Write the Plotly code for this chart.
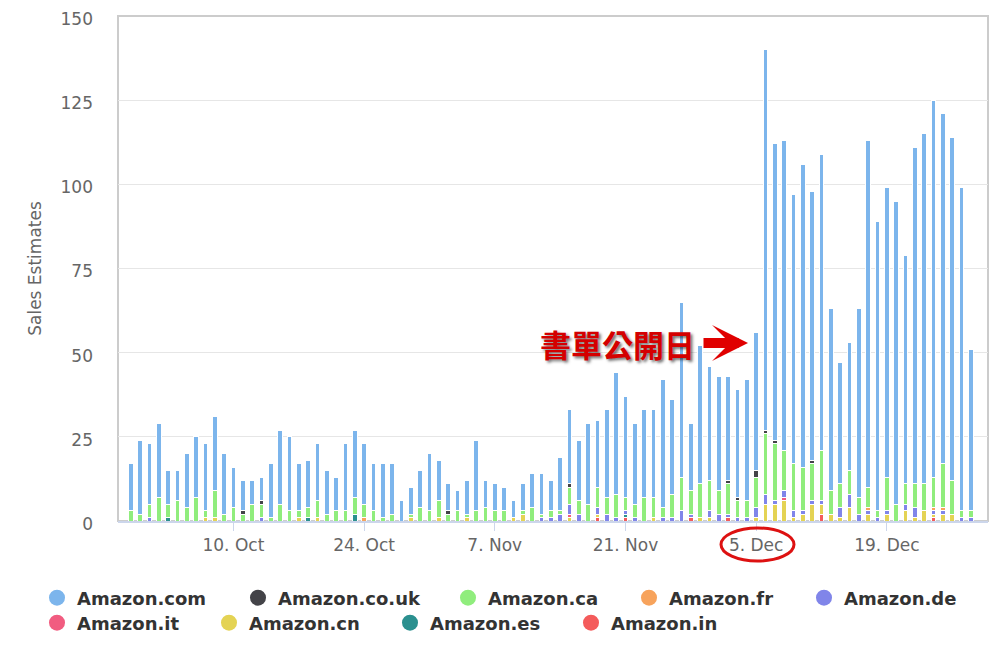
import pandas as pd
import plotly.graph_objects as go

# daily sales estimates per store, 29 Sep - 28 Dec
days = pd.date_range('2016-09-29', '2016-12-28', freq='D')

amazon_com = [14, 22, 18, 22, 10, 9, 16, 18, 20, 22,
              18, 12, 9, 7, 7, 16, 22, 22, 14, 14,
              17, 13, 10, 20, 20, 18, 14, 16, 15, 6,
              8, 11, 17, 12, 8, 6, 10, 21, 8, 8,
              7, 5, 8, 10, 12, 9, 16, 22, 18, 24,
              20, 26, 36, 30, 24, 26, 26, 38, 28, 52,
              20, 41, 34, 34, 31, 32, 36, 41, 113, 88,
              92, 80, 90, 80, 88, 54, 36, 38, 56, 103,
              86, 86, 90, 68, 100, 104, 112, 104, 102, 96, 48]
amazon_couk = [0, 0, 0, 0, 0, 0, 0, 0, 0, 0,
               0, 0, 1, 0, 1, 0, 0, 0, 0, 0,
               0, 0, 0, 0, 0, 0, 0, 0, 0, 0,
               0, 0, 0, 0, 1, 0, 0, 0, 0, 0,
               0, 0, 0, 0, 0, 0, 0, 1, 0, 0,
               0, 0, 0, 0, 0, 0, 0, 0, 0, 0,
               0, 0, 0, 0, 1, 1, 0, 2, 1, 1,
               0, 0, 0, 1, 0, 0, 0, 0, 0, 0,
               0, 0, 0, 0, 0, 0, 0, 0, 0, 0, 0]
amazon_ca = [3, 2, 4, 7, 4, 6, 4, 7, 2, 8,
             2, 4, 2, 5, 4, 1, 5, 3, 2, 3,
             5, 2, 3, 3, 5, 4, 3, 1, 2, 0,
             1, 4, 3, 5, 2, 3, 1, 3, 4, 3,
             3, 0, 1, 4, 1, 2, 1, 5, 4, 5,
             6, 5, 7, 4, 4, 7, 6, 3, 7, 10,
             7, 10, 9, 7, 9, 5, 5, 9, 18, 17,
             12, 14, 13, 11, 15, 7, 7, 7, 5, 6,
             2, 10, 5, 6, 7, 8, 9, 13, 10, 2, 2]
amazon_fr = [0, 0, 0, 0, 0, 0, 0, 0, 0, 0,
             0, 0, 0, 0, 0, 0, 0, 0, 0, 0,
             0, 0, 0, 0, 0, 1, 0, 0, 0, 0,
             0, 0, 0, 0, 0, 0, 0, 0, 0, 0,
             0, 0, 0, 0, 0, 0, 0, 0, 0, 0,
             0, 0, 0, 0, 0, 0, 0, 0, 0, 0,
             0, 0, 0, 0, 0, 0, 0, 0, 0, 0,
             0, 0, 0, 0, 0, 0, 0, 0, 0, 1,
             0, 0, 0, 0, 0, 0, 1, 1, 0, 0, 0]
amazon_de = [0, 0, 1, 0, 0, 0, 0, 0, 0, 0,
             0, 0, 0, 0, 1, 0, 0, 0, 0, 0,
             0, 0, 0, 0, 0, 0, 0, 0, 0, 0,
             0, 0, 0, 0, 0, 0, 0, 0, 0, 0,
             0, 0, 0, 0, 1, 1, 2, 3, 2, 0,
             2, 2, 1, 1, 1, 0, 0, 1, 1, 3,
             1, 0, 2, 2, 1, 1, 1, 3, 3, 1,
             2, 2, 1, 1, 1, 0, 3, 4, 2, 1,
             1, 1, 0, 2, 3, 0, 1, 1, 0, 1, 1]
amazon_it = [0, 0, 0, 0, 0, 0, 0, 0, 0, 0,
             0, 0, 0, 0, 0, 0, 0, 0, 0, 0,
             0, 0, 0, 0, 0, 0, 0, 0, 0, 0,
             0, 0, 0, 0, 0, 0, 0, 0, 0, 0,
             0, 0, 0, 0, 0, 0, 0, 1, 0, 0,
             0, 0, 0, 0, 0, 0, 0, 0, 0, 0,
             0, 0, 0, 0, 0, 0, 0, 0, 0, 0,
             1, 0, 0, 0, 0, 0, 0, 0, 0, 0,
             0, 0, 0, 0, 0, 0, 0, 0, 0, 0, 0]
amazon_cn = [0, 0, 0, 0, 0, 0, 0, 0, 1, 1,
             0, 0, 0, 0, 0, 0, 0, 0, 1, 0,
             1, 0, 0, 0, 0, 0, 0, 0, 0, 0,
             1, 0, 0, 1, 0, 0, 1, 0, 0, 0,
             0, 1, 2, 0, 0, 0, 0, 1, 0, 0,
             1, 0, 0, 0, 0, 0, 1, 0, 0, 0,
             0, 1, 1, 0, 0, 0, 0, 1, 5, 5,
             6, 1, 2, 5, 3, 2, 1, 4, 0, 2,
             0, 2, 0, 3, 1, 3, 1, 2, 2, 0, 0]
amazon_es = [0, 0, 0, 0, 1, 0, 0, 0, 0, 0,
             0, 0, 0, 0, 0, 0, 0, 0, 0, 1,
             0, 0, 0, 0, 2, 0, 0, 0, 0, 0,
             0, 0, 0, 0, 0, 0, 0, 0, 0, 0,
             0, 0, 0, 0, 0, 0, 0, 0, 0, 0,
             0, 0, 0, 1, 0, 0, 0, 0, 0, 0,
             0, 0, 0, 0, 0, 0, 0, 0, 0, 0,
             0, 0, 0, 0, 0, 0, 0, 0, 0, 0,
             0, 0, 0, 0, 0, 0, 0, 0, 0, 0, 0]
amazon_in = [0, 0, 0, 0, 0, 0, 0, 0, 0, 0,
             0, 0, 0, 0, 0, 0, 0, 0, 0, 0,
             0, 0, 0, 0, 0, 0, 0, 0, 0, 0,
             0, 0, 0, 0, 0, 0, 0, 0, 0, 0,
             0, 0, 0, 0, 0, 0, 0, 0, 0, 0,
             1, 0, 0, 1, 0, 0, 0, 0, 0, 0,
             1, 0, 0, 0, 1, 0, 0, 0, 0, 0,
             0, 0, 0, 0, 2, 0, 0, 0, 0, 0,
             0, 0, 0, 0, 0, 0, 1, 0, 0, 0, 0]

stores = ['Amazon.com', 'Amazon.co.uk', 'Amazon.ca', 'Amazon.fr', 'Amazon.de',
          'Amazon.it', 'Amazon.cn', 'Amazon.es', 'Amazon.in']
values = [amazon_com, amazon_couk, amazon_ca, amazon_fr, amazon_de,
          amazon_it, amazon_cn, amazon_es, amazon_in]
colors = ['#7cb5ec', '#434348', '#90ed7d', '#f7a35c', '#8085e9',
          '#f15c80', '#e4d354', '#2b908f', '#f45b5b']

# the page puts the figure 8px in from the top-left corner
PAD = 8

# screen px -> figure px
def fx(px):
    return px - PAD

# legend marker centres (screen px), laid out like the original two-row legend
legend_pos = [(57, 598), (258, 598), (468, 598), (649, 598), (824, 598),
              (57, 623), (229, 623), (410, 623), (591, 623)]

# plot area in figure px
L, R, T, B = fx(118), fx(988), fx(16), fx(521)
W, H = R - L, B - T

def px_to_x(px):
    return (fx(px) - L) / W

def px_to_y(py):
    return (B - fx(py)) / H

fig = go.Figure()

# highcharts stacks the first series on top, so add them in reverse
for name, vals, col in reversed(list(zip(stores, values, colors))):
    fig.add_trace(go.Bar(
        x=days, y=[v if v else None for v in vals], name=name,
        marker=dict(color=col, line=dict(color='white', width=1)),
        legendgroup=name, showlegend=False,
    ))

# circle markers for the legend, one legend box per entry
for i, (name, col) in enumerate(zip(stores, colors)):
    key = 'legend' if i == 0 else 'legend%d' % (i + 1)
    fig.add_trace(go.Scatter(
        x=[None], y=[None], mode='markers', name=name,
        marker=dict(color=col, size=16), legendgroup=name,
        legend=key,
    ))
    lx, ly = legend_pos[i]
    fig.update_layout({key: dict(
        orientation='h',
        x=px_to_x(lx - 20), y=px_to_y(ly),
        xanchor='left', yanchor='middle',
        bgcolor='rgba(0,0,0,0)', borderwidth=0,
        font=dict(family='DejaVu Sans', size=18, color='#333333', weight='bold'),
    )})

fig.update_layout(
    width=1004, height=669,
    barmode='stack', bargap=0.5,
    plot_bgcolor='white', paper_bgcolor='white',
    margin=dict(l=L, r=1004 - R, t=T, b=669 - B, autoexpand=False),
    font=dict(family='DejaVu Sans', color='#666666'),
    xaxis=dict(
        type='date',
        range=['2016-09-27 15:20', '2016-12-29 20:00'],
        tick0='2016-10-10', dtick=14 * 86400000, tickformat='%-d. %b',
        ticks='outside', ticklen=8, tickcolor='#ccd6eb', tickwidth=1,
        showline=True, linecolor='#ccd6eb', linewidth=2,
        showgrid=False, tickfont=dict(size=17, color='#666666'),
    ),
    yaxis=dict(
        range=[0, 150], dtick=25,
        gridcolor='#e6e6e6', gridwidth=1, zeroline=False,
        tickfont=dict(size=17, color='#666666'),
        ticklabelstandoff=24, ticklabeloverflow='allow', ticklabelshift=3,
        title=dict(text='Sales Estimates', font=dict(size=17, color='#666666'), standoff=14),
    ),
    shapes=[
        dict(type='rect', xref='paper', yref='paper', x0=0, x1=1, y0=0, y1=1,
             line=dict(color='#cccccc', width=2), layer='below'),
        dict(type='circle', xref='paper', yref='paper',
             x0=px_to_x(721), x1=px_to_x(794),
             y0=px_to_y(528), y1=px_to_y(561),
             line=dict(color='#dd1111', width=3)),
    ],
    annotations=[
        dict(text='書單公開日', xref='paper', yref='paper',
             x=px_to_x(617), y=px_to_y(343), showarrow=False,
             font=dict(family='Noto Sans CJK TC', size=31, color='#d40000', weight='bold',
                       shadow='2px 2px 3px rgba(0,0,0,0.55)')),
        dict(text='', xref='paper', yref='paper',
             x=px_to_x(748), y=px_to_y(343),
             showarrow=True, ax=-46, ay=0, arrowhead=3, arrowsize=0.6,
             arrowwidth=10, arrowcolor='#e00000'),
    ],
)

fig.write_html('out.html')
